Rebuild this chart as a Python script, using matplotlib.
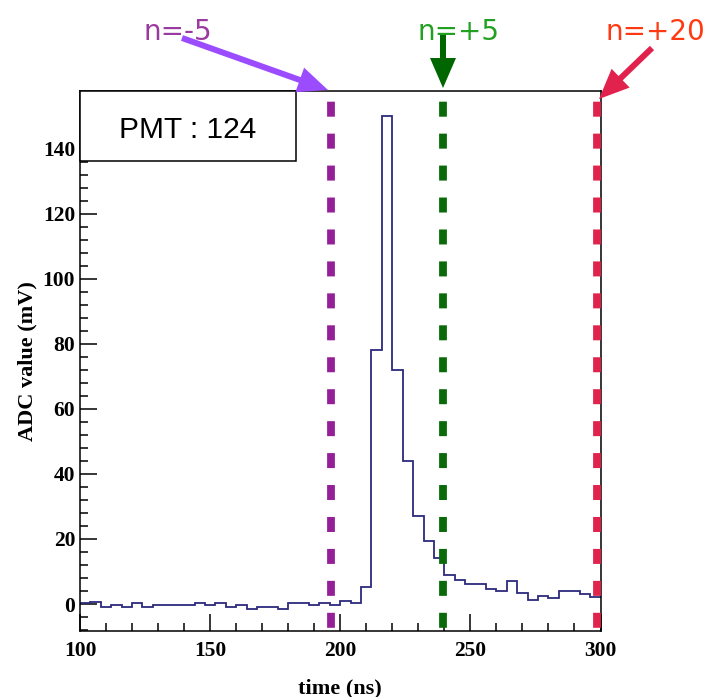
import numpy as np
import matplotlib
matplotlib.use('Agg')
import matplotlib.pyplot as plt
from matplotlib.patches import Rectangle, FancyArrow
from matplotlib.transforms import IdentityTransform
from matplotlib.ticker import MultipleLocator

# ---------------- data ----------------
bin_start = 100
bin_width = 4
adc_values = [0.2, 0.5, -0.8, -0.3, -0.8, 0.3, -0.8, -0.2, -0.2, -0.2,
              -0.2, 0.3, -0.2, 0.3, -0.8, -0.2, -1.4, -0.8, -0.8, -1.4,
              0.2, 0.2, -0.2, 0.3, -0.2, 0.8, 0.3, 5.2, 78, 150,
              72, 44, 27, 19.5, 14, 9, 7.5, 6, 6, 4.5,
              4, 7, 3.5, 1.3, 2.4, 1.8, 4, 4, 3, 2]
marker_times = [196.6, 239.3, 298.5]
marker_labels = ['n=-5', 'n=+5', 'n=+20']
pmt_label = 'PMT : 124'
x_label = 'time (ns)'
y_label = 'ADC value (mV)'

edges = bin_start + bin_width * np.arange(len(adc_values) + 1)

# ---------------- style ----------------
line_colors = ['#951f98', '#0a6a0a', '#e0224c']
text_colors = ['#9a3aa0', '#22a022', '#ff3a12']
arrow_colors = ['#9b4cff', '#006600', '#e0224c']

plt.rcParams['lines.scale_dashes'] = False
plt.rcParams['font.family'] = ['Liberation Serif', 'DejaVu Serif']
plt.rcParams['font.weight'] = 'bold'

W, H = 711, 697
fig = plt.figure(figsize=(W / 100, H / 100), dpi=100)
ax = fig.add_axes([80 / W, (H - 631) / H, 520.5 / W, 540 / H])
xmin, xmax = 100, 300
ymin, ymax = -8.3, 157.7
ax.set_xlim(xmin, xmax)
ax.set_ylim(ymin, ymax)

ax.stairs(adc_values, edges, color='#2c2a7c', lw=1.3, baseline=None, zorder=2)

for t, c in zip(marker_times, line_colors):
    ax.plot([t, t], [ymax, ymin], color=c, lw=5.6,
            linestyle=(15.3, (10.8, 12.2)), solid_capstyle='butt',
            dash_capstyle='butt', zorder=3)

for sp in ax.spines.values():
    sp.set_linewidth(1.1)

ax.xaxis.set_major_locator(MultipleLocator(50))
ax.xaxis.set_minor_locator(MultipleLocator(10))
ax.yaxis.set_major_locator(MultipleLocator(20))
ax.yaxis.set_minor_locator(MultipleLocator(4))
ax.tick_params(which='both', direction='in', top=False, right=False, width=1.1)
ax.tick_params(which='major', length=12)
ax.tick_params(which='minor', length=6)
ax.tick_params(axis='x', labelsize=15.5, pad=7)
ax.tick_params(axis='y', labelsize=15.5, pad=3.5)

ax.set_xlabel(x_label, fontsize=16, fontweight='bold')
ax.xaxis.set_label_coords(0.5, (631 - 688) / 540)
ax.xaxis.label.set_va('center')
ax.set_ylabel(y_label, fontsize=16, fontweight='bold')
ax.yaxis.set_label_coords((27 - 80) / 520.5, 0.5)
ax.yaxis.label.set_va('center')

# PMT box
box = Rectangle((0, (631 - 161) / 540), (296 - 80) / 520.5, 1 - (631 - 161) / 540,
                transform=ax.transAxes, fc='white', ec='black', lw=1.1,
                zorder=5, clip_on=False)
ax.add_patch(box)
ax.text((188 - 80) / 520.5, (631 - 130) / 540, pmt_label, transform=ax.transAxes,
        ha='center', va='center', fontsize=21.5, family='Liberation Sans',
        fontweight='normal', zorder=6)

# annotations (figure pixel positions)
text_pos = [(178, 40), (458, 40), (655, 40)]
arrow_tail = [(182, 38), (443, 35), (652, 48)]
arrow_tip = [(328, 90), (443, 88), (599, 99)]
for lab, tc, (tx, ty) in zip(marker_labels, text_colors, text_pos):
    fig.text(tx / W, 1 - ty / H, lab, color=tc, fontsize=20,
             family='DejaVu Sans', fontweight='normal', ha='center', va='baseline')
for ac, (x0, y0), (x1, y1) in zip(arrow_colors, arrow_tail, arrow_tip):
    arr = FancyArrow(x0, H - y0, x1 - x0, -(y1 - y0), width=6, head_width=26,
                     head_length=30, length_includes_head=True,
                     transform=IdentityTransform(), color=ac, lw=0, clip_on=False)
    fig.add_artist(arr)

fig.savefig('out.png', dpi=100)
